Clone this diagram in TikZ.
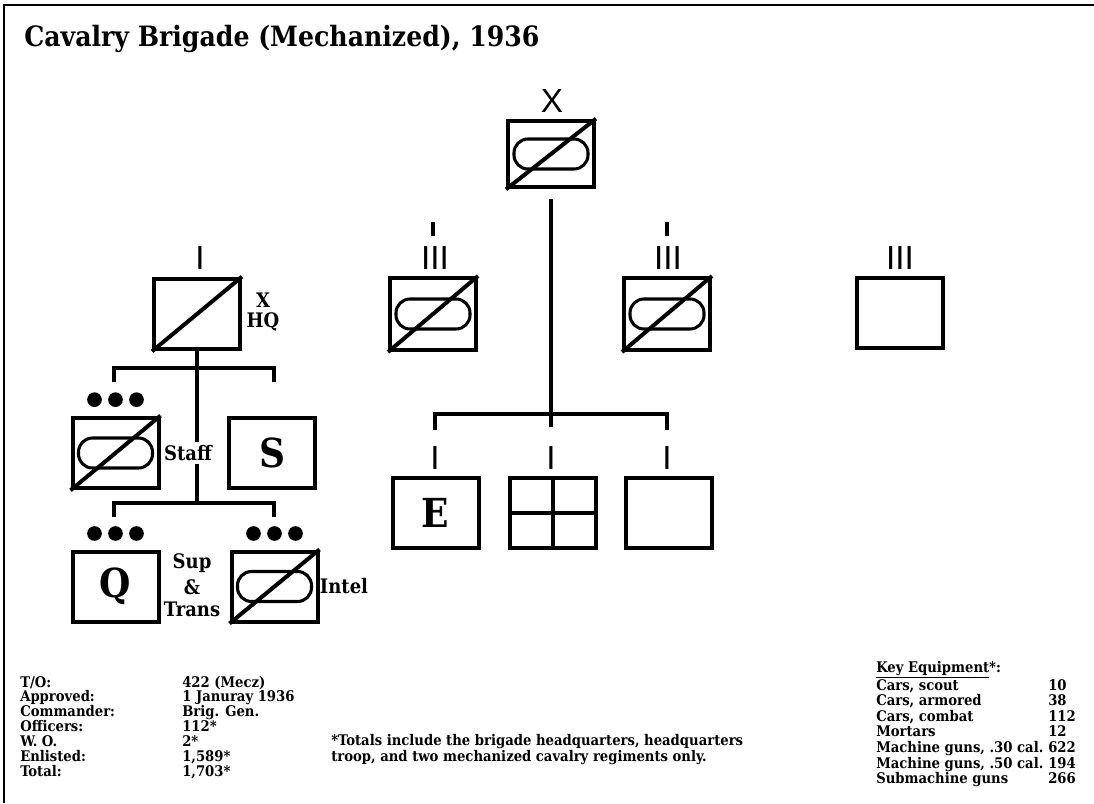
\documentclass[tikz,border=0pt]{standalone}
\usepackage{fontspec}
\setmainfont{DejaVu Serif Condensed}
\newfontfamily\armfont{Liberation Sans}
\usetikzlibrary{calc}
\begin{document}
\begin{tikzpicture}[x=0.75pt,y=-0.75pt,
  unitbox/.style={draw, line width=3pt, inner sep=0pt, minimum width=64.5pt, minimum height=52.5pt},
  echelon/.style={font=\armfont\fontsize{25pt}{25pt}\selectfont, inner sep=0pt},
  lbl/.style={font=\bfseries\fontsize{15pt}{16pt}\selectfont, inner sep=0pt},
  bigletter/.style={font=\bfseries\fontsize{30pt}{30pt}\selectfont, inner sep=0pt},
  small/.style={font=\bfseries\fontsize{11pt}{11.4pt}\selectfont, inner sep=0pt},
  conn/.style={line width=3pt, line join=miter},
  tick/.style={line width=3.6pt},
  dot/.style={circle, fill, inner sep=0pt, minimum size=11pt},
  frame/.style={line width=1.5pt}
]
\useasboundingbox (0,0) rectangle (1094,803);
\draw[frame] (4,803) -- (4,5) -- (1094,5);

% title
\node[anchor=base west, inner sep=0pt, font=\bfseries\fontsize{21pt}{22pt}\selectfont] (title) at (24,46) {Cavalry Brigade (Mechanized), 1936};

\newcommand{\recon}[1]{%
  \draw[line width=2.3pt, rounded corners=10.5pt] ($(#1.center)+(-37,-15)$) rectangle ($(#1.center)+(37,15)$);
  \draw[line width=3pt] (#1.south west) -- (#1.north east);}

% brigade
\node[unitbox, minimum height=50pt] (brig) at (551,154) {};
\recon{brig}
\node[echelon] (brigX) at (552,101) {X};

% regiments
\node[unitbox, minimum height=54pt] (regA) at (433,314) {};
\recon{regA}
\node[echelon] (regAm) at (435,258.5) {III};
\draw[tick] (433,222) -- (433,236);
\node[unitbox, minimum height=54pt] (regB) at (667,314) {};
\recon{regB}
\node[echelon] (regBm) at (668,258.5) {III};
\draw[tick] (667,222) -- (667,236);
\node[unitbox, minimum height=52.5pt] (regC) at (900,313) {};
\node[echelon] (regCm) at (900,258.5) {III};

% HQ
\node[unitbox, minimum height=53pt] (hq) at (197,314) {};
\draw[line width=3pt] (hq.south west) -- (hq.north east);
\node[echelon] (hqm) at (200,258.5) {I};
\node[lbl] (hqX) at (263,300) {X};
\node[lbl] (hqHQ) at (263,322) {HQ};

% HQ subunits
\node[unitbox, minimum height=53pt] (staffbox) at (115.5,453) {};
\recon{staffbox}
\node[unitbox, minimum height=53pt] (sbox) at (272,453) {};
\node[bigletter] (sS) at (sbox.center) {S};
\node[lbl, inner sep=2pt] (stafflbl) at (188,453) {Staff};

\node[unitbox, minimum height=52.5pt] (qbox) at (115.5,586.5) {};
\node[bigletter] (qQ) at (qbox.center) {Q};
\node[unitbox, minimum height=52.5pt] (intel) at (274.5,586.5) {};
\recon{intel}
\node[lbl] (sup) at (192,563) {Sup};
\node[lbl] (amp) at (192,587) {\&};
\node[lbl] (trans) at (192,609) {Trans};
\node[lbl] (intellbl) at (344,586) {Intel};

% dots
\foreach \dx [count=\i] in {-21,0,21} {
  \node[dot] (ds\i) at ($(staffbox.north)+(\dx,-16)$) {};
  \node[dot] (dq\i) at ($(qbox.north)+(\dx,-16)$) {};
  \node[dot] (di\i) at ($(intel.north)+(\dx,-16)$) {};
}

% HQ connectors
\coordinate (hqbar2) at ($(hq.south)+(0,152)$);
\draw[conn] (hq.south) -- (hq.south |- stafflbl.north);
\draw[conn] (hq.south |- stafflbl.south) -- (hqbar2);
\draw[conn] ($(staffbox.north)+(-1.5,-34)$) -- ($(staffbox.north)+(-1.5,-48)$) -| ($(sbox.north)+(2,-34)$);
\draw[conn] ($(qbox.north)+(-1.5,-33)$) -- ($(qbox.north)+(-1.5,-47)$) -| ($(intel.north)+(-0.5,-33)$);

% brigade companies
\node[unitbox, minimum height=52.5pt] (eng) at (435.5,512.5) {};
\node[bigletter] (engE) at (eng.center) {E};
\node[unitbox, minimum height=52.5pt] (sig) at (553,512.5) {};
\draw[line width=3pt] (sig.north) -- (sig.south);
\draw[line width=3pt] (sig.west) -- (sig.east);
\node[unitbox, minimum height=52.5pt] (svc) at (669,512.5) {};
\node[echelon] (engm) at (435,458.5) {I};
\node[echelon] (sigm) at (551,458.5) {I};
\node[echelon] (svcm) at (667,458.5) {I};

% brigade connectors
\draw[conn] ($(brig.south)+(0,10)$) -- ($(brig.south)+(0,238)$);
\draw[conn] ($(eng.north)+(-0.5,-46)$) -- ($(eng.north)+(-0.5,-62)$) -- ($(svc.north)+(-2,-62)$) -- ($(svc.north)+(-2,-46)$);

% data block
\foreach \a/\b [count=\i] in {{T/O:}/{422 (Mecz)}, {Approved:}/{1 Januray 1936}, {Commander:}/{Brig. Gen.}, {Officers:}/{112*}, {W. O.}/{2*}, {Enlisted:}/{1,589*}, {Total:}/{1,703*}} {
  \node[small, anchor=base west] (da\i) at (20,{687+14.9*(\i-1)}) {\a};
  \node[small, anchor=base west] (db\i) at (182,{687+14.9*(\i-1)}) {\b};
}

\node[small, anchor=base west, align=left] (note) at (331,761) {*Totals include the brigade headquarters, headquarters\\troop, and two mechanized cavalry regiments only.};

% key equipment
\node[small, anchor=base west] (keyhd) at (876,672) {\underline{Key Equipment}*:};
\foreach \a/\b [count=\i] in {{Cars, scout}/10, {Cars, armored}/38, {Cars, combat}/112, {Mortars}/12, {Machine guns, .30 cal.}/622, {Machine guns, .50 cal.}/194, {Submachine guns}/266} {
  \node[small, anchor=base west] (ka\i) at (876,{690+15.6*(\i-1)}) {\a};
  \node[small, anchor=base west] (kb\i) at (1048,{690+15.6*(\i-1)}) {\b};
}
\end{tikzpicture}
\end{document}
